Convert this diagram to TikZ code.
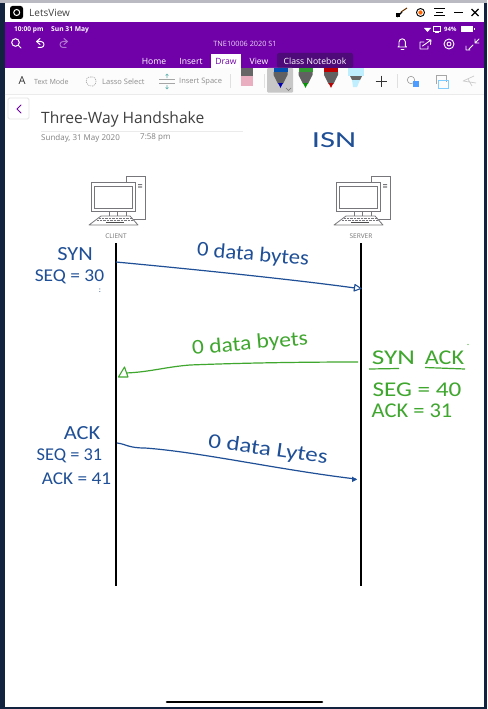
\documentclass[tikz,border=0pt]{standalone}
\usepackage{fontspec}
\setmainfont{Open Sans}
\newfontfamily\handfont{Carlito}
\definecolor{handblue}{HTML}{1F4F96}
\definecolor{handgreen}{HTML}{3FA62E}
\definecolor{appviolet}{HTML}{7000A8}
\definecolor{tabdark}{HTML}{4E0A78}
\definecolor{deskdark}{HTML}{12233F}
\definecolor{pcgrey}{HTML}{77777B}
\definecolor{toolgrey}{HTML}{8C8C8C}
\definecolor{eraserpink}{HTML}{E9AFC0}
\tikzset{
  x=1pt,y=-1pt,
  lifeline/.style={draw=black,line width=1.9pt},
  bluehand/.style={text=handblue,font=\handfont\fontsize{#1}{#1}\selectfont,inner sep=0pt,transform shape},
  greenhand/.style={text=handgreen,font=\handfont\fontsize{#1}{#1}\selectfont,inner sep=0pt,transform shape},
  bluestroke/.style={draw=handblue,line width=1.2pt},
  greenstroke/.style={draw=handgreen,line width=1.2pt},
  openhead/.style={draw=#1,line width=1.1pt,fill=white,line join=round},
  barwhite/.style={text=white,inner sep=0pt},
  tablabel/.style={text=white,inner sep=0pt,font=\fontsize{8.6}{9}\selectfont},
  toollabel/.style={text=toolgrey,inner sep=0pt,font=\fontsize{7.5}{8}\selectfont},
  baricon/.style={draw=white,line width=1pt,line cap=round,line join=round},
  computer/.pic={
    \draw[pcgrey,line width=.8pt,fill=white] (35,-6) rectangle (54,37);
    \fill[pcgrey] (47,2) rectangle (51,3.2) (47,4.4) rectangle (51,5.6);
    \draw[pcgrey,line width=.8pt,fill=white] (0,0) rectangle (44,29);
    \draw[pcgrey,line width=.8pt] (3,4) rectangle (41,26);
    \draw[pcgrey,line width=.8pt] (18,29) -- (18,34) (26,29) -- (26,34) (35,29) -- (35,34);
    \draw[pcgrey,line width=.8pt,fill=white,line join=round] (10,34) -- (39,34) -- (47,43) -- (-2,43) -- cycle;
    \draw[pcgrey,line width=1pt,dash pattern=on .8pt off .6pt] (8,36) -- (41,36) (6,38.2) -- (42,38.2);
    \draw[black!70,line width=1.4pt] (15,40.5) -- (33,40.5);
  },
}
\newcommand{\penicon}[3]{%
  \fill[#3] (#1-7,68) rectangle (#1+7,72);
  \fill[black!62] (#1-7,72) -- (#1+7,72) -- (#1+7,75) -- (#1+2.4,84) -- (#1-2.4,84) -- (#1-7,75) -- cycle;
  \fill[#2] (#1-2.4,83) -- (#1+2.4,83) -- (#1,88) -- cycle;
}
\begin{document}
\begin{tikzpicture}
\useasboundingbox (0,0) rectangle (487,709);
% desktop and window
\fill[deskdark] (0,0) rectangle (487,709);
\fill[black!10!blue!8!gray!50] (0,0) rectangle (487,3);
\fill[white] (4.5,3) rectangle (484,707);
\fill[appviolet] (4.5,22) rectangle (484,68);
\fill[black!1] (4.5,68) rectangle (484,94);
\draw[black!8,line width=.8pt] (4.5,94.5) -- (484,94.5);
% title bar
\fill[black,rounded corners=2.5pt] (10,6) rectangle (23,19);
\draw[white,line width=1pt] (16.7,12.5) circle (3);
\node[anchor=west,inner sep=0pt,text=black!75,font=\fontsize{10}{11}\selectfont] (appname) at (29,13) {LetsView};
\draw[black,line width=1.3pt] (397,17) -- (402,12);
\fill[black] (396,13) rectangle (400,17);
\draw[black!60!orange,line width=1pt] (401,12) -- (407,8);
\draw[black,line width=.9pt] (420.5,12.5) circle (4);
\fill[orange!80!red] (420.5,12.5) circle (2.2);
\draw[black,line width=1pt] (434,9) -- (445,9) (436,12.5) -- (443,12.5) (434,16) -- (445,16);
\draw[black,line width=1pt] (454,12.5) -- (463,12.5);
\draw[black,line width=1.2pt] (471.5,9) -- (478.5,16) (478.5,9) -- (471.5,16);
% status row
\node[barwhite,anchor=west,font=\bfseries\fontsize{6.6}{7}\selectfont] (clock) at (14,29.5) {10:00 pm};
\node[barwhite,anchor=west,font=\bfseries\fontsize{6.7}{7}\selectfont] (today) at (51,29.5) {Sun 31 May};
\fill[white] (424,28) -- (431,28) -- (427.5,32) -- cycle;
\draw[white,line width=.7pt] (433.5,26.5) rectangle (440,31) (435,32.3) -- (439,32.3);
\node[barwhite,anchor=west,font=\bfseries\fontsize{6}{7}\selectfont] (battpct) at (444,29.5) {94\%};
\fill[white] (461,26.5) rectangle (473,32);
\fill[white] (474,28) rectangle (475,30.5);
% icon row
\draw[baricon] (15.5,42.5) circle (3.8) (18.4,45.4) -- (21,48);
\draw[baricon] (40,38.5) -- (36.5,41.5) -- (40,44.5) (36.5,41.5) -- (41,41.5) arc (-90:90:3) -- (38,47.5);
\draw[baricon,opacity=.45] (64,38.5) -- (67.5,41.5) -- (64,44.5) (67.5,41.5) -- (63,41.5) arc (270:90:3) -- (66,47.5);
\node[barwhite,text=white!85!appviolet,font=\fontsize{7.3}{8}\selectfont] (notebook) at (245,44) {TNE10006 2020 S1};
\draw[baricon,line width=.9pt] (398,47) -- (399,46) -- (399,42) arc (180:360:3.2) -- (405.4,46) -- (406.5,47) -- cycle (401,49.5) -- (404,49.5);
\draw[baricon,line width=.9pt] (424,42) -- (420,42) -- (420,49) -- (428,49) -- (428,46) (422.5,46) -- (431,40) (426.5,39.5) -- (431,40) -- (430.5,44.5);
\draw[baricon,line width=.9pt] (449,44) circle (2) (449,44) circle (5);
\draw[baricon,line width=.9pt] (469,49) -- (473,45) (466,50) -- (470,50) (466,50) -- (466,46) (475,43) -- (479,39) (475,43) -- (479,43) (475,43) -- (475,39);
% tabs
\fill[white] (211,54) -- (241,54) -- (241,68) -- (211,68) -- cycle;
\fill[tabdark,rounded corners=2pt] (277,53) rectangle (353,68);
\node[tablabel] (tabhome) at (154,61) {Home};
\node[tablabel] (tabinsert) at (191,61) {Insert};
\node[tablabel,text=appviolet] (tabdraw) at (226,61) {Draw};
\node[tablabel] (tabview) at (259,61) {View};
\node[tablabel] (tabclass) at (315,61) {Class Notebook};
% toolbar
\node[inner sep=0pt,text=black!80,font=\fontsize{11}{12}\selectfont] (textmodeA) at (22,81) {A};
\node[toollabel,anchor=west,font=\fontsize{7.1}{8}\selectfont] (textmode) at (34,81.5) {Text Mode};
\draw[black!35,line width=.6pt,dash pattern=on 1.2pt off .8pt] (91,77) .. controls (84,76) and (84,87) .. (93,86) .. controls (97,85) and (98,76) .. (91,77);
\node[toollabel,anchor=west] (lasso) at (102,81.5) {Lasso Select};
\draw[black!35,line width=.6pt] (159,79.5) -- (175,79.5) (159,83) -- (175,83);
\draw[teal!60,line width=.6pt] (167,78) -- (167,74) (165.5,75.5) -- (167,74) -- (168.5,75.5) (167,85) -- (167,89) (165.5,87.5) -- (167,89) -- (168.5,87.5);
\node[toollabel,anchor=west] (insertspace) at (179,81.5) {Insert Space};
\draw[black!12,line width=.7pt] (230,74) -- (230,88);
\fill[black!60] (241,68) rectangle (253,76);
\fill[eraserpink] (241,76) rectangle (253,85.5);
\draw[black!12,line width=.7pt] (264,74) -- (264,88);
\fill[black!22,rounded corners=1pt] (267,68) rectangle (293,92.5);
\penicon{280.5}{blue!70!black}{blue!55!cyan!70!black}
\penicon{305.5}{green!60!black}{green!50!black!80}
\penicon{331}{red!75!black}{red!75!black}
\fill[blue!25!cyan!25] (348,68) rectangle (364,76);
\fill[black!60] (350,76) -- (362,76) -- (360,80) -- (352,80) -- cycle;
\fill[blue!25!cyan!25] (352,80) -- (360,80) -- (357,87) -- (353,87) -- cycle;
\draw[black!55,line width=.7pt] (286,88) -- (288.5,90.5) -- (291,88);
\draw[black!80,line width=.8pt] (381,75.5) -- (381,87) (375.5,81) -- (387,81);
\draw[black!12,line width=.7pt] (397,74) -- (397,88);
\draw[black!40,line width=.6pt] (411,80) circle (3.7);
\fill[blue!55!cyan!70] (413,80.5) rectangle (419,87);
\draw[black!35,line width=.6pt] (436,75) -- (446,75) -- (446,82) (436,75) -- (436,84);
\draw[blue!40!cyan!50,line width=.6pt] (438,80) rectangle (448,88);
\draw[black!20,line width=.7pt] (463,81) -- (474,76) (463,81) -- (476,83) (468,79) -- (472,86);
% back button
\draw[black!10,fill=white,line width=.8pt,rounded corners=1.5pt] (8,98) rectangle (29,119);
\draw[appviolet,line width=.8pt,line cap=round] (21,105) -- (17,109) -- (21,113);
% page title
\node[anchor=west,inner sep=0pt,text=black!75,font=\fontsize{15.6}{17}\selectfont] (pagetitle) at (41,119) {Three-Way Handshake};
\draw[black!8,line width=.6pt] (41,131.5) -- (243,131.5);
\node[anchor=west,inner sep=0pt,text=black!50,font=\fontsize{8}{9}\selectfont] (pagedate) at (41,138) {Sunday, 31 May 2020};
\node[anchor=west,inner sep=0pt,text=black!50,font=\fontsize{8}{9}\selectfont] (pagetime) at (140,138) {7:58 pm};
% computers
\pic at (91,182) {computer};
\pic at (336,182) {computer};
\node[inner sep=0pt,text=black!55,font=\fontsize{6.5}{7}\selectfont] (clientlabel) at (116,236) {CLIENT};
\node[inner sep=0pt,text=black!55,font=\fontsize{6.5}{7}\selectfont] (serverlabel) at (361,236) {SERVER};
% lifelines
\coordinate (clienttop) at (116.3,243);
\coordinate (clientbottom) at (116.3,586);
\coordinate (servertop) at (361,243);
\coordinate (serverbottom) at (361,586);
\draw[lifeline] (clienttop) -- (clientbottom);
\draw[lifeline] (servertop) -- (serverbottom);
% messages
\coordinate (synstart) at (116,262);
\coordinate (synend) at (355,288);
\coordinate (sahstart) at (358,362);
\coordinate (sahend) at (126,373);
\coordinate (ackstart) at (117,443);
\coordinate (ackend) at (356,479);
\draw[bluestroke] (synstart) .. controls (180,268) and (290,279) .. (synend);
\draw[openhead=handblue] (355,284.5) -- (361,288.5) -- (354,291) -- cycle;
\draw[greenstroke] (sahstart) .. controls (300,362) and (240,363) .. (190,365) .. controls (165,367) and (150,372) .. (sahend);
\draw[openhead=handgreen] (118.5,377) -- (124.5,367) -- (128,377) -- cycle;
\draw[bluestroke] (ackstart) .. controls (126,444) and (128,448) .. (145,448) .. controls (200,452) and (280,470) .. (ackend);
\fill[handblue] (352,476.5) -- (357,479.5) -- (352,482) -- cycle;
% handwriting
\node[bluehand=23,xscale=1.42] (isn) at (334,140) {ISN};
\node[bluehand=20,xscale=1.12] (synlabel) at (75,254) {SYN};
\node[bluehand=18,xscale=1.08] (seqthirty) at (69.5,276.5) {SEQ = 30};
\node[bluehand=8] (dots) at (100,291) {:};
\node[bluehand=21,rotate=-5,xscale=1.08] (bytesone) at (253,255) {0 data bytes};
\node[greenhand=21,rotate=5,xscale=1.12] (bytestwo) at (250,344) {0 data byets};
\node[greenhand=21,xscale=1.3] (synboxone) at (393.5,358) {SYN};
\node[greenhand=21,xscale=1.15] (ackboxone) at (444.5,358) {ACK};
\draw[greenstroke] (369,369) -- (399,368.5);
\draw[greenstroke] (425,367.5) -- (465,369);
\fill[handgreen] (468,344.5) circle (.6);
\node[greenhand=21,xscale=1.2] (seqforty) at (417,390) {SEG = 40};
\node[greenhand=21,xscale=1.07] (ackthirtyone) at (412,411) {ACK = 31};
\node[bluehand=20,xscale=1.12] (acklabel) at (82,433) {ACK};
\node[bluehand=18,xscale=1.02] (seqthirtyone) at (69.5,456) {SEQ = 31};
\node[bluehand=18,xscale=1.07] (ackfortyone) at (76.5,479) {ACK = 41};
\node[bluehand=21,rotate=-8,xscale=1.19] (bytesthree) at (268,450) {0 data Lytes};
% home indicator
\draw[black,line width=2.6pt,line cap=round] (167,702) -- (322,702);
\end{tikzpicture}
\end{document}
